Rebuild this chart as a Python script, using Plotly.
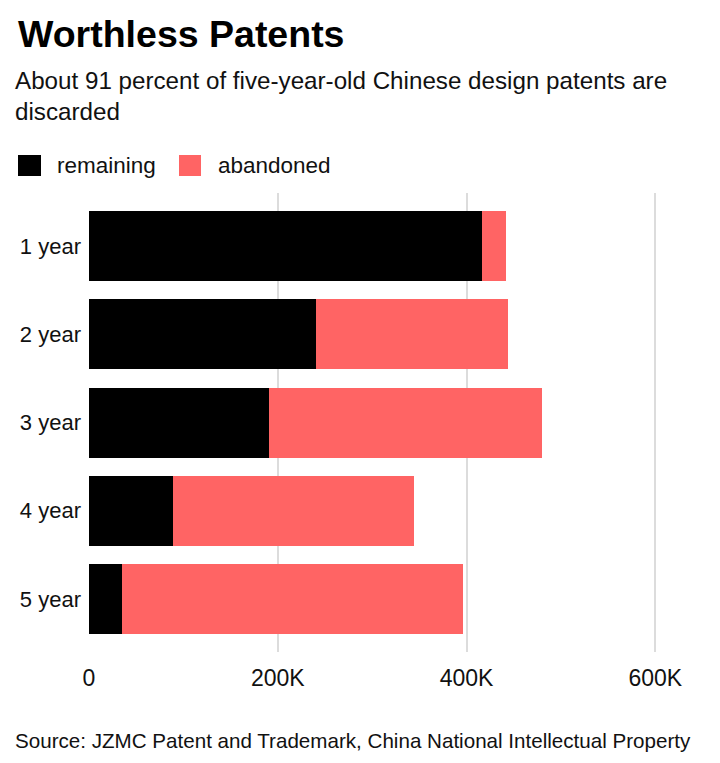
import plotly.graph_objects as go

categories = ["1 year", "2 year", "3 year", "4 year", "5 year"]
remaining = [416000, 241000, 190500, 89500, 34700]
abandoned = [26000, 202500, 290000, 254500, 362000]
series_names = ["remaining", "abandoned"]
series_colors = ["#000000", "#ff6464"]
tick_vals = [0, 200000, 400000, 600000]
tick_text = ["0", "200K", "400K", "600K"]

W, H = 720, 763
ML, MR, MT, MB = 89, 27, 193, 111
PW = W - ML - MR
PH = H - MT - MB
FONT = "Liberation Sans, Arial, sans-serif"


def px(x):
    return (x - ML) / PW


def py(y):
    return (H - MB - y) / PH


fig = go.Figure()
for name, vals, col in zip(series_names, [remaining, abandoned], series_colors):
    fig.add_trace(go.Bar(
        y=categories, x=vals, name=name, orientation="h",
        marker=dict(color=col, line=dict(width=0)), showlegend=False,
    ))

fig.update_layout(
    width=W, height=H,
    margin=dict(l=ML, r=MR, t=MT, b=MB, pad=0),
    paper_bgcolor="white", plot_bgcolor="white",
    barmode="stack", bargap=0.207,
    font=dict(family=FONT, color="#111111"),
    xaxis=dict(
        range=[0, 640000], tickvals=tick_vals, ticktext=tick_text,
        showgrid=True, gridcolor="#dcdcdc", gridwidth=2,
        zeroline=True, zerolinecolor="white", zerolinewidth=3,
        showline=False, ticks="", tickfont=dict(size=23, color="#111111"),
        ticklabelstandoff=10, fixedrange=True,
    ),
    yaxis=dict(
        type="category", categoryorder="array", categoryarray=categories,
        range=[4.6, -0.6], showgrid=False, zeroline=False, showline=False,
        ticks="", tickfont=dict(size=22, color="#111111"),
        ticklabelstandoff=7, fixedrange=True,
    ),
)

annotations = [
    dict(text="<b>Worthless Patents</b>", x=px(16), y=py(34), xanchor="left", yanchor="middle",
         font=dict(size=37.5, color="#000000", family=FONT)),
    dict(text="About 91 percent of five-year-old Chinese design patents are<br>discarded",
         x=px(13), y=py(96), xanchor="left", yanchor="middle", align="left",
         font=dict(size=24.2, color="#111111", family=FONT)),
    dict(text="Source: JZMC Patent and Trademark, China National Intellectual Property",
         x=px(13), y=py(740), xanchor="left", yanchor="middle",
         font=dict(size=20.6, color="#111111", family=FONT)),
]

# manual legend
legend_sq = [(18, 41), (179, 201)]
legend_tx = [55, 216]
shapes = []
for (x0, x1), tx, name, col in zip(legend_sq, legend_tx, series_names, series_colors):
    shapes.append(dict(type="rect", xref="paper", yref="paper",
                       x0=px(x0), x1=px(x1), y0=py(176), y1=py(155),
                       fillcolor=col, line=dict(width=0)))
    annotations.append(dict(text=name, x=px(tx), y=py(165.5), xanchor="left", yanchor="middle",
                            font=dict(size=22.5, color="#111111", family=FONT)))

for a in annotations:
    a.update(xref="paper", yref="paper", showarrow=False)

fig.update_layout(annotations=annotations, shapes=shapes)
fig.write_html("out.html")
